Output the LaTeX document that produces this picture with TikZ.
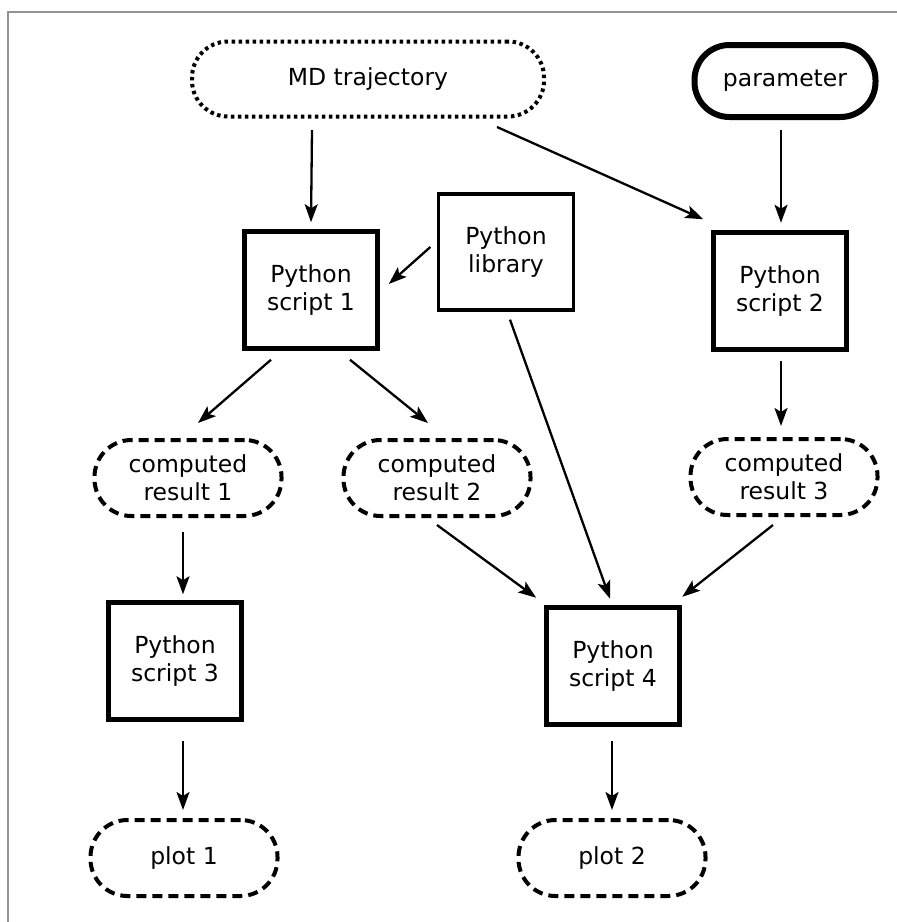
\documentclass[tikz,border=0pt]{standalone}
\usepackage{fontspec}
\setmainfont{DejaVu Sans}
\usetikzlibrary{calc,arrows.meta}
\begin{document}
\begin{tikzpicture}[x=1pt,y=-1pt,
  every node/.style={font=\fontsize{23.5}{28}\selectfont, align=center, inner sep=0pt},
  procbox/.style={draw, line width=5.5pt, minimum width=133pt, minimum height=117pt},
  libbox/.style={draw, line width=3.3pt, minimum width=135pt, minimum height=116pt},
  datapill/.style={draw, line width=4pt, dash pattern=on 10pt off 6pt, rounded corners=37pt, minimum width=187pt, minimum height=76pt},
  inpill/.style={draw, line width=4pt, dash pattern=on 3.5pt off 3.5pt, rounded corners=36pt, minimum width=352pt, minimum height=75pt},
  parpill/.style={draw, line width=6pt, rounded corners=35pt, minimum width=181pt, minimum height=72pt},
  arr/.style={line width=2.3pt, -{Stealth[length=18pt,width=13pt,inset=4pt]}}
]
\useasboundingbox (0,0) rectangle (897,922);
\coordinate (bl) at (8,922);
\coordinate (tl) at (8,12);
\coordinate (tr) at (897,12);
\draw[line width=2pt, gray!85] (bl) -- (tl) -- (tr);

\node[inpill] (md) at (368,79) {MD trajectory};
\node[parpill] (param) at (785,81) {parameter};
\node[procbox] (ps1) at (311,290) {Python\\script 1};
\node[libbox] (lib) at (506,252) {Python\\library};
\node[procbox] (ps2) at (780,291) {Python\\script 2};
\node[datapill] (cr1) at (188,478) {computed\\result 1};
\node[datapill] (cr2) at (437,478) {computed\\result 2};
\node[datapill] (cr3) at (784,477) {computed\\result 3};
\node[procbox] (ps3) at (175,661) {Python\\script 3};
\node[procbox] (ps4) at (613,666) {Python\\script 4};
\node[datapill] (plot1) at (184,858) {plot 1};
\node[datapill] (plot2) at (612,858) {plot 2};

\draw[arr] ($(md.south)+(-56,11.5)$) -- ($(ps1.north)+(0,-6.5)$);
\draw[arr] ($(md.south east)+(-49,8.5)$) -- ($(ps2.north west)+(-7.5,-10.5)$);
\draw[arr] ($(param.south)+(-4,10)$) -- ($(ps2.north)+(1,-7)$);
\draw[arr] ($(lib.west)+(-6.5,-5)$) -- ($(ps1.east)+(8.5,-6)$);
\draw[arr] ($(ps1.south)+(-40,8.5)$) -- ($(cr1.north)+(10,-15)$);
\draw[arr] ($(ps1.south)+(39,8.5)$) -- ($(cr2.north)+(-9,-15)$);
\draw[arr] ($(ps2.south)+(1,8.5)$) -- ($(cr3.north)+(-3,-11)$);
\draw[arr] ($(cr1.south)+(-5,14)$) -- ($(ps3.north)+(8,-5.5)$);
\draw[arr] ($(cr2.south)+(0,7)$) -- ($(ps4.north west)+(-7.5,-7)$);
\draw[arr] ($(lib.south)+(4,8)$) -- ($(ps4.north)+(-3,-6)$);
\draw[arr] ($(cr3.south)+(-11,8)$) -- ($(ps4.north east)+(0,-8)$);
\draw[arr] ($(ps3.south)+(8,18.5)$) -- ($(plot1.north)+(-1,-8)$);
\draw[arr] ($(ps4.south)+(-1,14)$) -- ($(plot2.north)+(0,-8)$);
\end{tikzpicture}
\end{document}
